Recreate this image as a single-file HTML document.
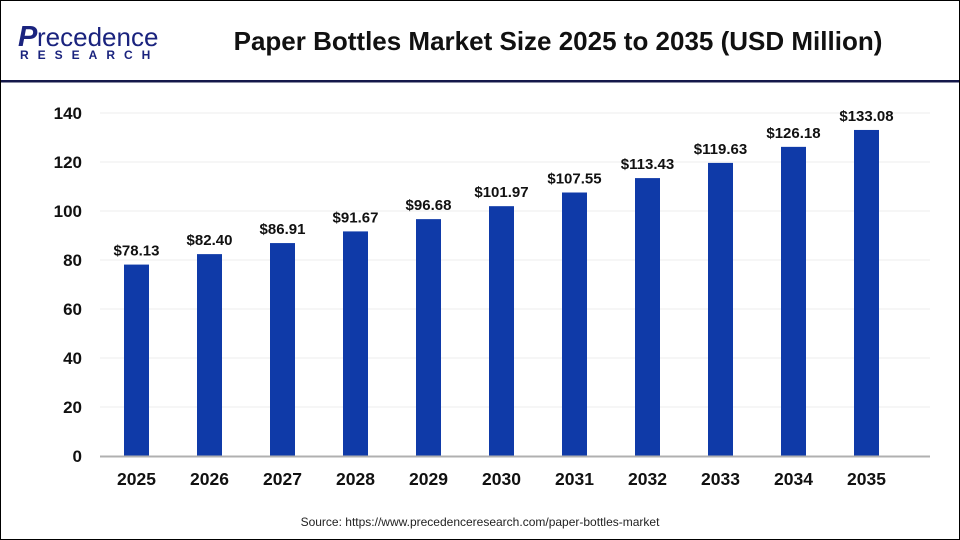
<!DOCTYPE html>
<html><head><style>
body{margin:0;}
.wrap{position:relative;width:958px;height:538px;border:1px solid #000;background:#fff;overflow:hidden;font-family:"Liberation Sans",Arial,sans-serif;}
</style></head><body><div class="wrap">
<svg width="958" height="538" viewBox="1 1 958 538" xmlns="http://www.w3.org/2000/svg" font-family="Liberation Sans, Arial, sans-serif">
<text x="18" y="46" font-size="29" fill="#1a237e" font-weight="bold" font-style="italic">P</text>
<text x="37" y="46" font-size="26" fill="#1a237e">recedence</text>
<text x="20" y="59" font-size="12" fill="#1a237e" font-weight="bold" letter-spacing="9">RESEARCH</text>
<text x="558" y="50" font-size="26" font-weight="bold" text-anchor="middle" fill="#111">Paper Bottles Market Size 2025 to 2035 (USD Million)</text>
<rect x="0" y="80" width="960" height="2.5" fill="#14184a"/>
<g stroke="#ececec" stroke-width="1">
<line x1="100" x2="930" y1="113" y2="113"/><line x1="100" x2="930" y1="162" y2="162"/><line x1="100" x2="930" y1="211" y2="211"/><line x1="100" x2="930" y1="260" y2="260"/><line x1="100" x2="930" y1="309" y2="309"/><line x1="100" x2="930" y1="358" y2="358"/><line x1="100" x2="930" y1="407" y2="407"/>
</g>
<g font-size="17" font-weight="bold" text-anchor="end" fill="#111">
<text x="82" y="119">140</text><text x="82" y="168">120</text><text x="82" y="217">100</text><text x="82" y="266">80</text><text x="82" y="315">60</text><text x="82" y="364">40</text><text x="82" y="413">20</text><text x="82" y="462">0</text>
</g>
<g fill="#0f3aa8" id="bars"></g>
<line x1="100" x2="930" y1="456.5" y2="456.5" stroke="#b0b0b0" stroke-width="2"/>
<g id="labels" font-weight="bold" text-anchor="middle" fill="#111"></g>
<text x="480" y="526" font-size="12" text-anchor="middle" fill="#222">Source: https://www.precedenceresearch.com/paper-bottles-market</text>
</svg>
<script>
var v=[78.13,82.40,86.91,91.67,96.68,101.97,107.55,113.43,119.63,126.18,133.08];
var b=document.getElementById('bars'),l=document.getElementById('labels'),h='',lh='';
for(var i=0;i<11;i++){var c=136.5+73*i,t=456-v[i]*2.45;
h+='<rect x="'+(c-12.5)+'" y="'+t+'" width="25" height="'+(456-t)+'"/>';
lh+='<text x="'+c+'" y="'+(t-9)+'" font-size="15">$'+v[i].toFixed(2)+'</text>';
lh+='<text x="'+c+'" y="485" font-size="17.5">'+(2025+i)+'</text>';}
b.innerHTML=h;l.innerHTML=lh;
</script>
</div></body></html>
